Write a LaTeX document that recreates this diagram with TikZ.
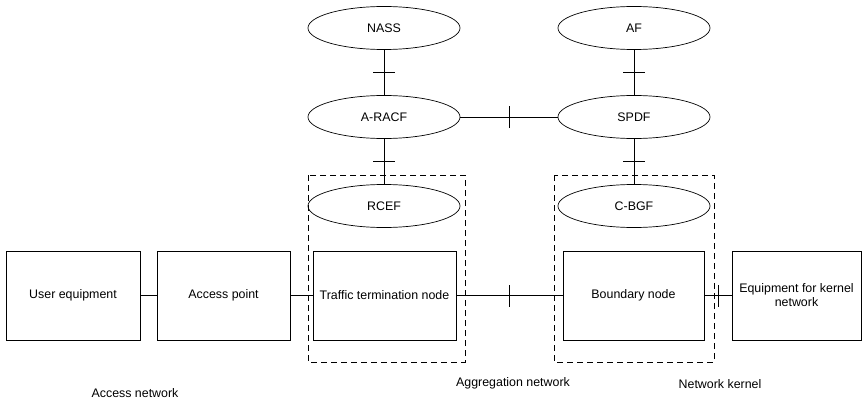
\documentclass[tikz,border=0pt]{standalone}
\usepackage{fontspec}
\setmainfont{Liberation Sans}
\usetikzlibrary{shapes.geometric,decorations.markings}
\tikzset{
  func/.style={draw, ellipse, line width=0.7pt, minimum width=152pt, minimum height=43pt, inner sep=0pt},
  unit/.style={draw, rectangle, line width=0.7pt, minimum height=89pt, inner sep=0pt, align=center},
  zone/.style={draw, line width=0.7pt, dash pattern=on 6pt off 4pt},
  link/.style={line width=0.7pt},
  ticked/.style={link, postaction={decorate, decoration={markings,
      mark=at position 0.5 with {\draw[line width=0.7pt] (0,-11pt) -- (0,11pt);}}}},
  label/.style={inner sep=0pt}
}
\begin{document}
\begin{tikzpicture}[x=1pt, y=-1pt, font=\fontsize{12.4}{14}\selectfont]
  \useasboundingbox (0,0) rectangle (863,404);

  % control functions
  \node[func] (nass)  at (384,28)  {NASS};
  \node[func] (aracf) at (384,117) {A-RACF};
  \node[func] (af)    at (634,28)  {AF};
  \node[func] (spdf)  at (634,117) {SPDF};

  % dashed zones
  \draw[zone] (308,175) rectangle (465,362);
  \draw[zone] (554,175) rectangle (714,362);

  \node[func] (rcef) at (384,206) {RCEF};
  \node[func] (cbgf) at (634,206) {C-BGF};

  % transport nodes
  \node[unit, minimum width=134pt] (ue)  at (73,295.5)    {User equipment};
  \node[unit, minimum width=133pt] (ap)  at (223.5,295.5) {Access point};
  \node[unit, minimum width=143pt] (ttn) at (384.5,295.5) {Traffic termination node};
  \node[unit, minimum width=141pt] (bn)  at (633.5,295.5) {Boundary node};
  \node[unit, minimum width=129pt] (eq)  at (796.5,295.5) {Equipment for kernel\\network};

  % interfaces
  \draw[ticked] (nass) -- (aracf);
  \draw[ticked] (af) -- (spdf);
  \draw[ticked] (aracf) -- (rcef);
  \draw[ticked] (spdf) -- (cbgf);
  \draw[ticked] (aracf) -- (spdf);
  \draw[link] (ue) -- (ap);
  \draw[link] (ap) -- (ttn);
  \draw[ticked] (ttn) -- (bn);
  \draw[ticked] (bn) -- (eq);

  % network labels
  \node[label] (accnet) at (135,393) {Access network};
  \node[label] (aggnet) at (513,383) {Aggregation network};
  \node[label] (kernet) at (720,384) {Network kernel};
\end{tikzpicture}
\end{document}
